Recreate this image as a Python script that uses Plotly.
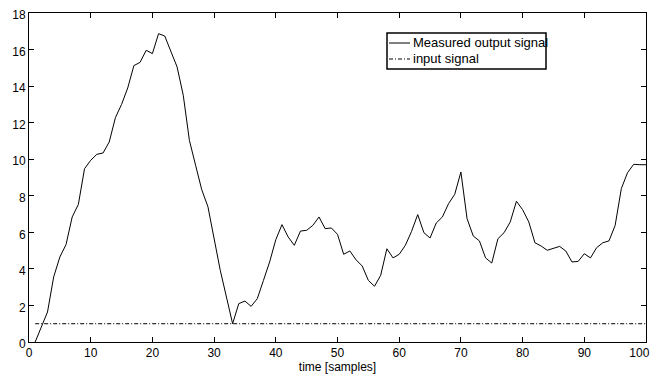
import plotly.graph_objects as go

time_samples = list(range(1, 101))
measured_output = [
    0.0, 0.8, 1.64, 3.56, 4.65, 5.33, 6.84, 7.53, 9.48, 9.94,
    10.27, 10.34, 10.94, 12.27, 13.0, 13.9, 15.12, 15.3, 15.96, 15.78,
    16.87, 16.74, 15.9, 15.05, 13.5, 11.03, 9.67, 8.33, 7.4, 5.65,
    3.92, 2.46, 1.0, 2.1, 2.24, 1.95, 2.37, 3.37, 4.38, 5.6,
    6.42, 5.75, 5.29, 6.07, 6.11, 6.38, 6.84, 6.2, 6.24, 5.89,
    4.8, 4.98, 4.5, 4.16, 3.37, 3.05, 3.65, 5.1, 4.6, 4.8,
    5.29, 6.05, 6.97, 5.98, 5.69, 6.51, 6.84, 7.57, 8.08, 9.3,
    6.75, 5.8, 5.53, 4.6, 4.32, 5.65, 5.98, 6.57, 7.7, 7.24,
    6.57, 5.43, 5.25, 5.02, 5.11, 5.23, 4.98, 4.38, 4.41, 4.83,
    4.6, 5.16, 5.43, 5.53, 6.38, 8.39, 9.26, 9.72, 9.7, 9.7,
]
input_signal = [1.0] * 100

x_ticks = [0, 10, 20, 30, 40, 50, 60, 70, 80, 90, 100]
x_tick_labels = ["0", "10", "20", "30", "40", "50", "60", "70", "80", "90", "100"]
y_ticks = [0, 2, 4, 6, 8, 10, 12, 14, 16, 18]

series_names = ["Measured output signal", "input signal"]
series_dash = ["solid", "4px,2px,1px,2px"]

FONT = "Liberation Sans, Arial, Helvetica, sans-serif"

fig = go.Figure()
fig.add_trace(go.Scatter(x=time_samples, y=measured_output, mode="lines",
                         name=series_names[0],
                         line=dict(color="black", width=1, dash=series_dash[0])))
fig.add_trace(go.Scatter(x=time_samples, y=input_signal, mode="lines",
                         name=series_names[1],
                         line=dict(color="black", width=1, dash=series_dash[1])))

axis_common = dict(showline=True, linecolor="black", linewidth=1, mirror="ticks",
                   ticks="inside", ticklen=5, tickcolor="black", tickwidth=1,
                   showgrid=False, zeroline=False, automargin=False,
                   ticklabeloverflow="allow",
                   tickfont=dict(family=FONT, size=12, color="black"))

# last x label is pulled left so it stays inside the frame (as in the reference)
shown_x_labels = x_tick_labels[:-1] + [x_tick_labels[-1] + "\u00a0" * 4]

fig.update_xaxes(range=[0, 100], tickvals=x_ticks, ticktext=shown_x_labels, **axis_common,
                 title=dict(text="time [samples]", standoff=0,
                            font=dict(family=FONT, size=12, color="black")))
fig.update_yaxes(range=[0, 18], tickvals=y_ticks, ticklabelshift=2, **axis_common)

# page offset of the figure (body margin)
OFF = 8
# plot area in page pixels
L, R, T, B = 29, 646, 13, 342
def px_x(p):
    return (p - L) / (R - L)
def px_y(p):
    return (B - p) / (B - T)

# Custom compact legend (MATLAB style)
fig.add_shape(type="rect", xref="paper", yref="paper",
              x0=px_x(387), x1=px_x(546), y0=px_y(69), y1=px_y(33),
              line=dict(color="black", width=1.5), fillcolor="white", layer="above")
row_y = [43, 59]
for name, dash, ry in zip(series_names, series_dash, row_y):
    fig.add_shape(type="line", xref="paper", yref="paper",
                  x0=px_x(389), x1=px_x(410), y0=px_y(ry), y1=px_y(ry),
                  line=dict(color="black", width=1, dash=dash), layer="above")
    fig.add_annotation(xref="paper", yref="paper", x=px_x(411), y=px_y(ry),
                       xanchor="left", yanchor="middle", showarrow=False,
                       text=name, font=dict(family=FONT, size=13, color="black"))

W, H = 658, 374
fig.update_layout(
    width=W, height=H,
    margin=dict(l=L - OFF, r=W + OFF - R, t=T - OFF, b=H + OFF - B),
    paper_bgcolor="white", plot_bgcolor="white",
    showlegend=False,
)

fig.write_html("out.html")
